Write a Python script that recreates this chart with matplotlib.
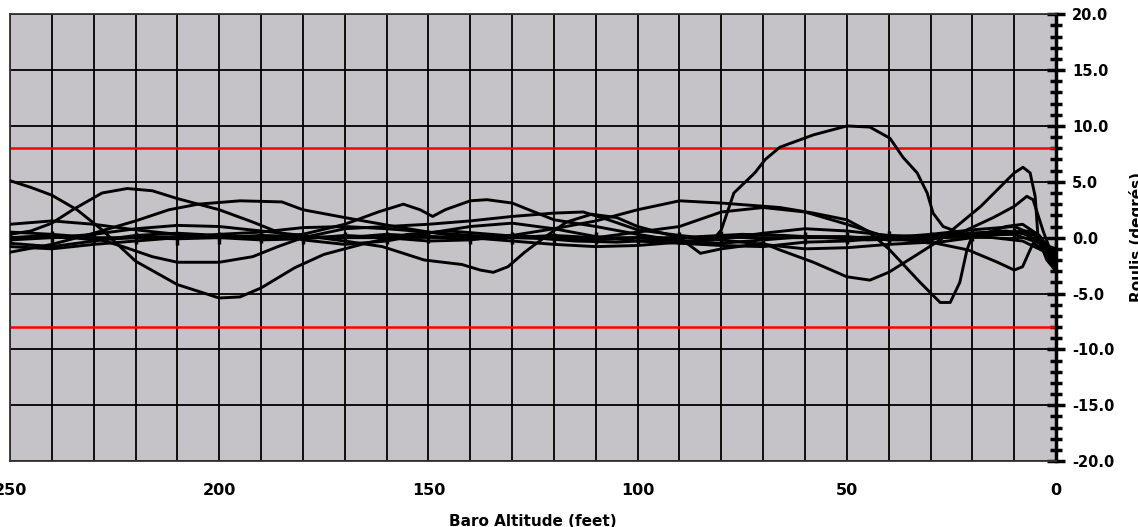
import matplotlib.pyplot as plt
from matplotlib.ticker import MultipleLocator, FormatStrFormatter

plt.rcParams['font.family'] = ['DejaVu Sans']

# Roll traces (altitude ft -> roll deg)
alt1 = [250, 245, 240, 234, 228, 220, 210, 200, 195, 190, 182, 175, 165, 155, 145, 135, 125, 115, 105, 95, 85, 75, 65, 55, 45, 35, 25, 15, 8, 3, 0]
roll1 = [5.1, 4.5, 3.8, 2.5, 0.7, -2.1, -4.2, -5.4, -5.3, -4.5, -2.7, -1.5, -0.5, 0.3, 0.6, 0.3, 0.0, -0.3, -0.4, -0.2, 0.1, 0.3, 0.2, 0.0, -0.2, -0.1, 0.3, 0.5, 0.4, -0.5, -2.0]

alt2 = [250, 245, 240, 235, 228, 222, 216, 210, 200, 192, 186, 180, 170, 160, 150, 140, 130, 120, 110, 100, 90, 80, 70, 60, 50, 40, 30, 20, 10, 5, 0]
roll2 = [0.3, 0.6, 1.3, 2.5, 4.0, 4.4, 4.2, 3.5, 2.5, 1.4, 0.5, -0.2, -0.6, -0.3, 0.4, 1.0, 1.3, 0.8, 0.1, -0.3, -0.5, -0.7, -0.8, -0.4, -0.3, 0.0, 0.3, 0.7, 1.0, 0.2, -2.5]

alt3 = [250, 240, 230, 220, 212, 205, 195, 185, 180, 170, 158, 150, 140, 130, 120, 110, 100, 90, 80, 70, 60, 50, 40, 30, 20, 12, 6, 3, 0]
roll3 = [-1.3, -0.6, 0.4, 1.5, 2.5, 3.0, 3.3, 3.2, 2.5, 1.8, 1.0, 0.5, 0.0, -0.3, -0.6, -0.8, -0.7, -0.4, -0.1, 0.4, 0.8, 0.6, 0.2, 0.1, 0.2, 0.5, 0.6, -0.5, -2.2]

alt4 = [250, 240, 230, 223, 216, 210, 200, 192, 186, 180, 170, 160, 150, 140, 130, 120, 113, 107, 100, 90, 80, 70, 60, 50, 40, 30, 21, 14, 10, 8, 5.5, 3, 0]
roll4 = [0.5, 0.3, 0.0, -0.8, -1.7, -2.2, -2.2, -1.7, -0.8, 0.0, 0.8, 1.0, 1.2, 1.5, 1.9, 2.2, 2.3, 1.6, 0.7, 0.2, -0.2, -0.6, -1.0, -0.9, -0.6, -0.4, -1.1, -2.2, -2.9, -2.6, -0.5, -1.0, -2.0]

alt5 = [250, 240, 230, 220, 210, 200, 190, 180, 170, 162, 156, 152, 149, 146, 140, 136, 130, 126, 120, 110, 100, 90, 80, 70, 60, 50, 40, 30, 23, 15, 10, 7, 5.5, 3, 0]
roll5 = [-0.5, -0.8, -0.3, 0.2, 0.4, 0.2, 0.0, 0.3, 1.2, 2.3, 3.0, 2.5, 1.9, 2.5, 3.3, 3.4, 3.1, 2.5, 1.6, 1.0, 0.3, -0.3, -0.5, -0.2, 0.1, 0.1, -0.2, -0.2, 0.4, 1.8, 2.8, 3.7, 3.4, 0.5, -2.5]

alt6 = [250, 240, 230, 220, 210, 200, 190, 180, 170, 161, 151, 142, 137.6, 134.5, 131, 127, 122, 117, 111, 105, 100, 90, 85, 80, 70, 66, 58, 50, 44.5, 40, 34, 27.7, 18, 10, 7.9, 6.2, 5, 4.3, 2.2, 0]
roll6 = [-0.2, 0.0, 0.3, 0.8, 1.1, 1.0, 0.6, 0.2, -0.3, -0.8, -2.0, -2.4, -2.9, -3.1, -2.6, -1.3, 0.1, 1.4, 2.1, 1.8, 1.0, 0.0, -1.4, -1.0, -0.5, -1.1, -2.2, -3.5, -3.8, -3.1, -1.7, -0.2, 2.8, 5.8, 6.3, 5.8, 3.7, 0.0, -2.0, -3.0]

alt7 = [250, 240, 230, 220, 210, 200, 190, 180, 170, 160, 150, 140, 130, 120, 110, 100, 90, 80, 66, 58, 50, 45, 40, 32.5, 27.7, 25.3, 23, 21.3, 19.8, 12, 5, 0]
roll7 = [1.2, 1.5, 1.2, 0.7, 0.3, 0.0, -0.2, -0.1, 0.2, 0.0, -0.3, -0.2, 0.2, 0.8, 1.5, 2.5, 3.3, 3.1, 2.7, 2.2, 1.6, 0.6, -1.0, -4.0, -5.8, -5.8, -4.0, -1.1, 0.4, 0.6, 0.2, -1.5]

alt8 = [250, 240, 230, 220, 210, 200, 190, 180, 170, 160, 150, 140, 130, 120, 110, 100, 90, 82, 80, 77, 72, 69.5, 66, 58, 50, 44.5, 39.7, 36.6, 33.2, 30.8, 29.4, 27, 22, 15, 8, 3, 0]
roll8 = [0.0, 0.2, -0.2, 0.0, 0.1, 0.0, 0.2, 0.1, 0.0, 0.3, 0.1, -0.1, 0.2, 0.0, -0.2, 0.0, -0.3, -0.2, 0.7, 4.0, 5.8, 7.0, 8.1, 9.2, 10.0, 9.9, 8.9, 7.2, 5.8, 4.0, 2.2, 1.0, 0.3, 0.0, -0.3, -1.2, -2.8]

alt9 = [250, 240, 230, 220, 210, 200, 190, 180, 170, 160, 150, 140, 130, 120, 110, 100, 90, 80, 70, 60, 50, 40, 30, 20, 12, 8, 4, 0]
roll9 = [-0.8, -1.0, -0.6, -0.3, 0.0, 0.3, 0.5, 0.9, 1.0, 0.8, 0.5, 0.2, 0.0, 0.2, 0.0, 0.5, 1.0, 2.3, 2.7, 2.3, 1.2, 0.0, -0.5, 0.0, 1.0, 1.2, 0.2, -1.8]

# near-zero trace with tick marks every 10 ft
alt10 = [250, 240, 230, 220, 210, 200, 190, 180, 170, 160, 150, 140, 130, 120, 110, 100, 90, 80, 70, 60, 50, 40, 30, 20, 10, 0]
roll10 = [0.0, 0.1, 0.0, 0.0, -0.1, 0.0, 0.1, 0.0, 0.0, 0.0, 0.1, 0.0, 0.0, -0.1, 0.0, 0.0, 0.0, 0.1, 0.0, 0.0, 0.0, 0.1, 0.0, 0.2, 0.3, -1.0]

limit = 8.0

fig = plt.figure(figsize=(11.38, 5.27), dpi=100)
ax = fig.add_axes([0.0088, 0.125, 0.9192, 0.848])
ax.set_facecolor('#c5c3c7')

traces = [(alt1, roll1), (alt2, roll2), (alt3, roll3), (alt4, roll4), (alt5, roll5),
          (alt6, roll6), (alt7, roll7), (alt8, roll8), (alt9, roll9)]
for a, r in traces:
    ax.plot(a, r, color='black', lw=2.1, zorder=3)
ax.plot(alt10, roll10, color='black', lw=2.1, marker='|', markersize=9, markeredgewidth=2.5, zorder=3)

ax.axhline(limit, color='red', lw=1.8, zorder=2)
ax.axhline(-limit, color='red', lw=1.8, zorder=2)

ax.set_xlim(250, 0)
ax.set_ylim(-20, 20)

# grid every 10 ft / 5 deg
ax.xaxis.set_major_locator(MultipleLocator(50))
ax.xaxis.set_minor_locator(MultipleLocator(10))
ax.yaxis.set_major_locator(MultipleLocator(5))
ax.yaxis.set_minor_locator(MultipleLocator(1))
ax.grid(True, which='major', color='black', lw=1.3, zorder=1)
ax.grid(True, which='minor', axis='x', color='black', lw=1.3, zorder=1)
ax.set_axisbelow(True)

ax.yaxis.tick_right()
ax.yaxis.set_major_formatter(FormatStrFormatter('%.1f'))
ax.tick_params(axis='y', which='major', direction='inout', length=13, width=2.5, pad=5, labelsize=10.5)
ax.tick_params(axis='y', which='minor', direction='inout', length=8, width=2.5)
ax.tick_params(axis='x', which='both', length=0, pad=16, labelsize=11.5)
for lab in ax.get_xticklabels() + ax.get_yticklabels():
    lab.set_fontweight('bold')

for s in ['top', 'left', 'bottom']:
    ax.spines[s].set_color('#333333')
    ax.spines[s].set_linewidth(1.3)
ax.spines['right'].set_linewidth(2.5)
ax.spines['right'].set_color('black')

ax.set_xlabel('Baro Altitude (feet)', fontsize=11, fontweight='bold', labelpad=11)
fig.text(1129 / 1138, 0.55, 'Roulis (degrés)', rotation=90, fontsize=11,
         fontweight='bold', ha='left', va='center')

plt.savefig('out.png', dpi=100)
